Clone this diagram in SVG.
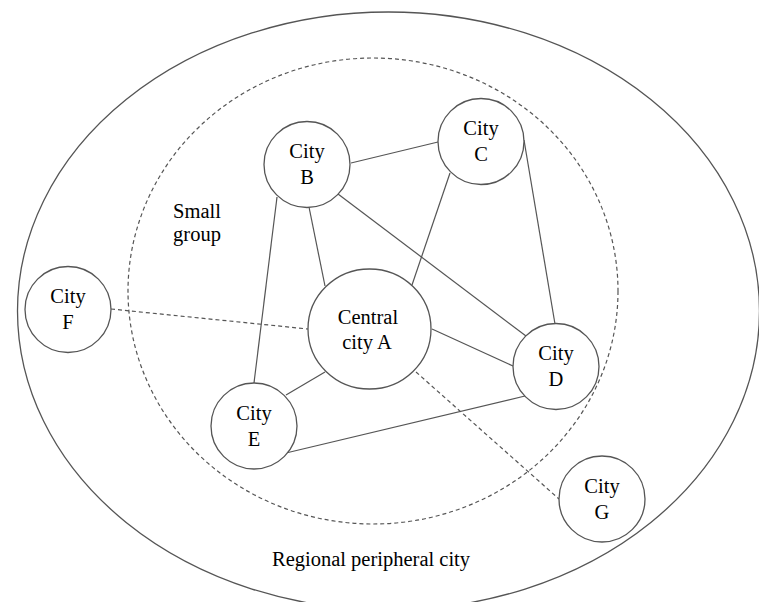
<svg xmlns="http://www.w3.org/2000/svg" width="759" height="602" viewBox="0 0 759 602">
<style>
.node{fill:#fff;stroke:#555;stroke-width:1.3}
.lbl{font-size:20.5px;fill:#000;text-anchor:middle}
.edge{stroke:#555;stroke-width:1.2;fill:none}
.dash{stroke:#555;stroke-width:1.2;fill:none;stroke-dasharray:4 3}
</style>
<rect width="759" height="602" fill="#fff"/>
<g font-family="'Liberation Serif', Tinos, 'Times New Roman', 'DejaVu Serif', serif">
<g id="regions">
<ellipse cx="388.5" cy="311" rx="371" ry="299" fill="none" stroke="#555" stroke-width="1.3"/>
<ellipse cx="373" cy="291" rx="245" ry="233" class="dash"/>
<text class="lbl" x="371" y="566">Regional peripheral city</text>
<text class="lbl" x="197" y="218">Small</text>
<text class="lbl" x="197" y="241">group</text>
</g>
<g id="connectors">
<line class="edge" x1="351" y1="163" x2="438" y2="142"/>
<line class="edge" x1="277" y1="197" x2="254" y2="383"/>
<line class="edge" x1="309" y1="207" x2="325" y2="286"/>
<line class="edge" x1="338" y1="194" x2="526" y2="336"/>
<line class="edge" x1="450" y1="173" x2="412" y2="285"/>
<line class="edge" x1="524" y1="140" x2="555" y2="324"/>
<line class="edge" x1="432" y1="329" x2="513" y2="366"/>
<line class="edge" x1="325" y1="372" x2="286" y2="395"/>
<line class="edge" x1="286" y1="453" x2="525" y2="396"/>
<line class="dash" x1="111" y1="309" x2="308" y2="329"/>
<line class="dash" x1="416" y1="372" x2="559" y2="499"/>
</g>
<g id="nodeA">
<ellipse class="node" cx="369.5" cy="329" rx="61.5" ry="60"/>
<text class="lbl" x="368" y="324">Central</text>
<text class="lbl" x="367" y="349">city A</text>
</g>
<g id="nodeB">
<circle class="node" cx="307" cy="164.5" r="43"/>
<text class="lbl" x="307" y="158">City</text>
<text class="lbl" x="307" y="184">B</text>
</g>
<g id="nodeC">
<circle class="node" cx="481" cy="141.5" r="43"/>
<text class="lbl" x="481" y="135">City</text>
<text class="lbl" x="481" y="161">C</text>
</g>
<g id="nodeD">
<circle class="node" cx="556" cy="366.5" r="43"/>
<text class="lbl" x="556" y="360">City</text>
<text class="lbl" x="556" y="386">D</text>
</g>
<g id="nodeE">
<circle class="node" cx="254" cy="426" r="43"/>
<text class="lbl" x="254" y="419.5">City</text>
<text class="lbl" x="254" y="445.5">E</text>
</g>
<g id="nodeF">
<circle class="node" cx="68" cy="309.5" r="43"/>
<text class="lbl" x="68" y="303">City</text>
<text class="lbl" x="68" y="329">F</text>
</g>
<g id="nodeG">
<circle class="node" cx="602" cy="499" r="43"/>
<text class="lbl" x="602" y="492.5">City</text>
<text class="lbl" x="602" y="518.5">G</text>
</g>
</g>
</svg>
